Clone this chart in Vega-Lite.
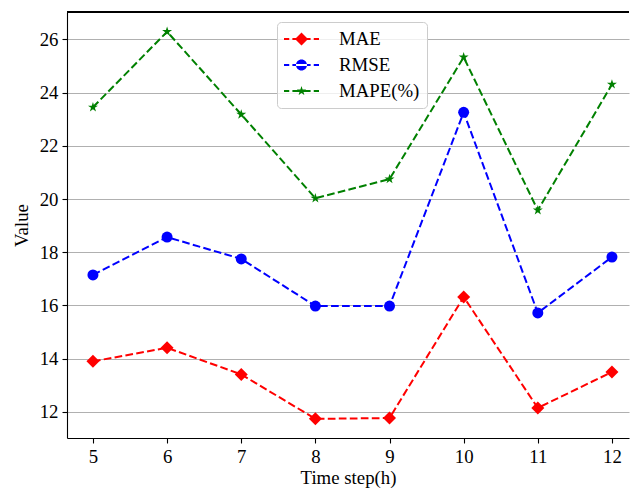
{
  "$schema": "https://vega.github.io/schema/vega-lite/v6.json",
  "width": 562,
  "height": 426,
  "autosize": {"type": "none"},
  "padding": {"left": 67, "top": 12, "right": 1, "bottom": 50},
  "config": {
    "view": {"stroke": null},
    "font": "Liberation Serif",
    "axis": {
      "labelFont": "Liberation Serif", "labelFontSize": 18.8, "labelColor": "#000000",
      "titleFont": "Liberation Serif", "titleFontSize": 18.8, "titleFontWeight": "normal", "titleColor": "#000000",
      "domainColor": "#000000", "domainWidth": 1.1, "tickColor": "#000000", "tickWidth": 1.1, "tickSize": 5, "labelPadding": 4
    }
  },
  "data": {
    "values": [
      {"t": 5, "series": "MAE", "value": 13.90},
      {"t": 6, "series": "MAE", "value": 14.41},
      {"t": 7, "series": "MAE", "value": 13.41},
      {"t": 8, "series": "MAE", "value": 11.74},
      {"t": 9, "series": "MAE", "value": 11.77},
      {"t": 10, "series": "MAE", "value": 16.32},
      {"t": 11, "series": "MAE", "value": 12.15},
      {"t": 12, "series": "MAE", "value": 13.50},
      {"t": 5, "series": "RMSE", "value": 17.15},
      {"t": 6, "series": "RMSE", "value": 18.57},
      {"t": 7, "series": "RMSE", "value": 17.75},
      {"t": 8, "series": "RMSE", "value": 15.98},
      {"t": 9, "series": "RMSE", "value": 15.98},
      {"t": 10, "series": "RMSE", "value": 23.26},
      {"t": 11, "series": "RMSE", "value": 15.72},
      {"t": 12, "series": "RMSE", "value": 17.82},
      {"t": 5, "series": "MAPE(%)", "value": 23.45},
      {"t": 6, "series": "MAPE(%)", "value": 26.29},
      {"t": 7, "series": "MAPE(%)", "value": 23.18},
      {"t": 8, "series": "MAPE(%)", "value": 20.03},
      {"t": 9, "series": "MAPE(%)", "value": 20.75},
      {"t": 10, "series": "MAPE(%)", "value": 25.33},
      {"t": 11, "series": "MAPE(%)", "value": 19.58},
      {"t": 12, "series": "MAPE(%)", "value": 24.31}
    ]
  },
  "encoding": {
    "x": {
      "field": "t", "type": "quantitative",
      "scale": {"domain": [4.65, 12.23], "nice": false, "zero": false},
      "axis": {"values": [5, 6, 7, 8, 9, 10, 11, 12], "format": "d", "title": "Time step(h)", "grid": false, "titlePadding": 3}
    },
    "y": {
      "field": "value", "type": "quantitative",
      "scale": {"domain": [11.02, 27.03], "nice": false, "zero": false},
      "axis": {"values": [12, 14, 16, 18, 20, 22, 24, 26], "title": "Value", "grid": true, "gridColor": "#b0b0b0", "gridWidth": 1.1, "titlePadding": 8}
    }
  },
  "layer": [
    {
      "mark": {"type": "line", "strokeDash": [7.7, 3.3], "strokeWidth": 2},
      "encoding": {
        "color": {
          "field": "series", "type": "nominal",
          "scale": {"domain": ["MAE", "RMSE", "MAPE(%)"], "range": ["#ff0000", "#0000ff", "#008000"]},
          "legend": {
            "orient": "none", "legendX": 210, "legendY": 10, "title": null,
            "fillColor": "rgba(255,255,255,0.8)", "strokeColor": "#cccccc", "cornerRadius": 4, "padding": 7,
            "labelFont": "Liberation Serif", "labelFontSize": 18.8, "labelColor": "#000000",
            "labelOffset": 35, "rowPadding": 6, "symbolSize": 400, "symbolStrokeWidth": 0,
            "encode": {
              "symbols": {
                "update": {
                  "shape": {"signal": "datum.value === 'MAE' ? 'M-1,-0.1H-0.475V0.1H-1ZM-0.16,-0.1H1.66V0.1H-0.16ZM1.975,-0.1H2.5V0.1H1.975ZM0.75,-0.65L1.4,0L0.75,0.65L0.1,0Z' : datum.value === 'RMSE' ? 'M-1,-0.1H-0.475V0.1H-1ZM-0.16,-0.1H1.66V0.1H-0.16ZM1.975,-0.1H2.5V0.1H1.975ZM0.2,0A0.55,0.55,0,1,0,1.3,0A0.55,0.55,0,1,0,0.2,0Z' : 'M-1,-0.1H-0.475V0.1H-1ZM-0.16,-0.1H1.66V0.1H-0.16ZM1.975,-0.1H2.5V0.1H1.975ZM0.75,-0.5L0.8615,-0.1535L1.2255,-0.1545L0.9305,0.0585L1.044,0.4045L0.75,0.19L0.456,0.4045L0.5695,0.0585L0.2745,-0.1545L0.6385,-0.1535Z'"},
                  "fill": {"scale": "color", "field": "value"},
                  "strokeWidth": {"value": 0},
                  "opacity": {"value": 1}
                }
              }
            }
          }
        }
      }
    },
    {
      "transform": [{"filter": "datum.series === 'MAE'"}],
      "mark": {"type": "point", "shape": "diamond", "size": 169, "filled": true, "opacity": 1, "color": "#ff0000"}
    },
    {
      "transform": [{"filter": "datum.series === 'RMSE'"}],
      "mark": {"type": "point", "shape": "circle", "size": 121, "filled": true, "opacity": 1, "color": "#0000ff"}
    },
    {
      "transform": [{"filter": "datum.series === 'MAPE(%)'"}],
      "mark": {"type": "point", "shape": "M0,-1L0.223,-0.307L0.951,-0.309L0.361,0.117L0.588,0.809L0,0.38L-0.588,0.809L-0.361,0.117L-0.951,-0.309L-0.223,-0.307Z", "size": 110, "filled": true, "opacity": 1, "color": "#008000"}
    },
    {
      "mark": {"type": "rule", "color": "#000000", "strokeWidth": 1.1},
      "encoding": {"x": null, "y": {"datum": 27.03, "type": "quantitative"}}
    }
  ]
}
